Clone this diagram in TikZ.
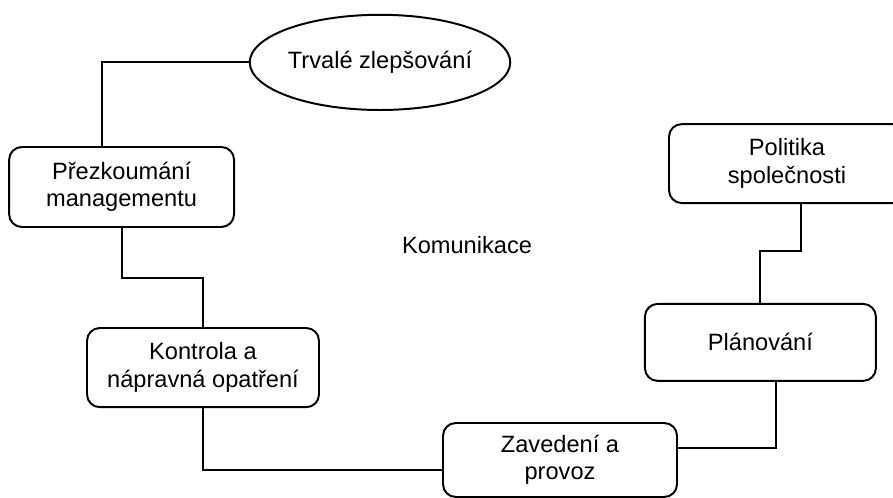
\documentclass[tikz,border=0pt]{standalone}
\usepackage{fontspec}
\setmainfont{Liberation Sans}
\usetikzlibrary{shapes.geometric,calc}
\definecolor{cInk}{HTML}{000000}
\tikzset{
  every node/.style={font=\fontsize{16.8}{19.5}\selectfont, text=cInk},
  blk/.style={draw=cInk, line width=1.4pt, rounded corners=0.32cm, align=center, inner sep=0pt, minimum width=5.8cm, minimum height=1.98cm},
  goal/.style={draw=cInk, line width=1.4pt, ellipse, inner sep=0pt, minimum width=6.25cm, minimum height=2.38cm},
  lnk/.style={draw=cInk, line width=1.4pt},
}

\begin{document}
\begin{tikzpicture}
\useasboundingbox (0,0) rectangle (22.325,12.45);
\clip (0,0) rectangle (22.325,12.45);
% cycle
\node[goal] (trv) at (9.5,10.89) {Trvalé zlepšování};
\node[blk, minimum width=5.625cm, minimum height=2.0cm] (prez) at (3.04,7.775) {Přezkoumání\\managementu};
\node[blk] (kon) at (5.075,3.26) {Kontrola a\\nápravná opatření};
\node[blk, minimum width=5.85cm, minimum height=1.85cm] (zav) at (14.0,0.95) {Zavedení a\\provoz};
\node[blk, minimum width=5.775cm, minimum height=1.925cm] (pla) at (19.01,3.89) {Plánování};
\node[blk, minimum width=5.9cm, minimum height=1.975cm] (pol) at (19.675,8.36) {Politika\\společnosti};
\node (kom) at (11.675,6.33) {Komunikace};
\draw[lnk] (trv.west) -| ([xshift=-0.49cm]prez.north);
\draw[lnk] (prez.south) -- ++(0,-1.25) -| (kon.north);
\draw[lnk] (kon.south) |- ([yshift=-0.25cm]zav.west);
\draw[lnk] ([yshift=0.3cm]zav.east) -| ([xshift=0.39cm]pla.south);
\draw[lnk] (pla.north) -- ++(0,1.3) -| ([xshift=0.35cm]pol.south);
\end{tikzpicture}
\end{document}
